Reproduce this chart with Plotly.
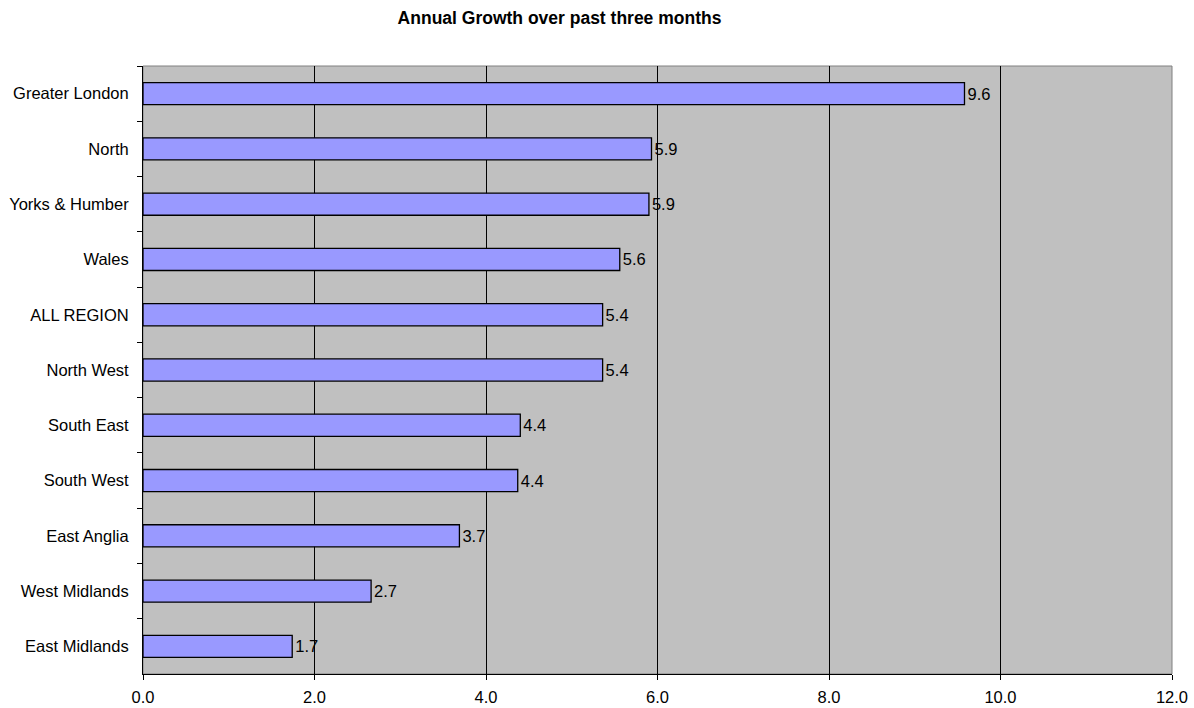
import plotly.graph_objects as go

regions = ["Greater London", "North", "Yorks & Humber", "Wales", "ALL REGION",
           "North West", "South East", "South West", "East Anglia",
           "West Midlands", "East Midlands"]
growth = [9.58, 5.93, 5.90, 5.56, 5.36, 5.36, 4.40, 4.37, 3.69, 2.66, 1.74]
x_ticks = [0, 2, 4, 6, 8, 10, 12]
x_tick_labels = ["0.0", "2.0", "4.0", "6.0", "8.0", "10.0", "12.0"]

FONT = "Liberation Sans, Arial, sans-serif"
FS = 16.5

fig = go.Figure(go.Bar(
    x=growth, y=regions, orientation="h",
    marker=dict(color="#9999FF", line=dict(color="#000000", width=1.3)),
    text=[f"{v:.1f}" for v in growth], textposition="outside",
    textfont=dict(family=FONT, size=FS, color="#000000"),
    cliponaxis=False, width=0.4,
))

fig.update_layout(
    width=1194, height=708,
    margin=dict(l=143, r=22, t=66, b=34),
    paper_bgcolor="#FFFFFF", plot_bgcolor="#C0C0C0",
    showlegend=False,
    title=dict(text="<b>Annual Growth over past three months</b>",
               x=0.4686, xanchor="center", y=0.975, yanchor="middle",
               font=dict(family=FONT, size=17.5, color="#000000")),
    font=dict(family=FONT, size=FS, color="#000000"),
)
fig.update_xaxes(
    range=[0, 12], tickvals=x_ticks, ticktext=x_tick_labels,
    showgrid=True, gridcolor="#000000", gridwidth=1,
    showline=True, linecolor="#000000", linewidth=1,
    ticks="outside", ticklen=5, tickcolor="#000000",
    zeroline=False, tickfont=dict(family=FONT, size=FS),
    automargin=False, ticklabelstandoff=3,
)
fig.update_yaxes(
    autorange="reversed", showgrid=False,
    showline=True, linecolor="#000000", linewidth=1,
    ticks="outside", ticklen=5, tickcolor="#000000", tickson="boundaries",
    tickfont=dict(family=FONT, size=FS), ticklabelstandoff=10,
    automargin=False,
)
fig.add_shape(type="rect", xref="paper", yref="paper", x0=0, x1=1, y0=0, y1=1,
              line=dict(color="#808080", width=1), layer="below")

fig.write_html("out.html")
